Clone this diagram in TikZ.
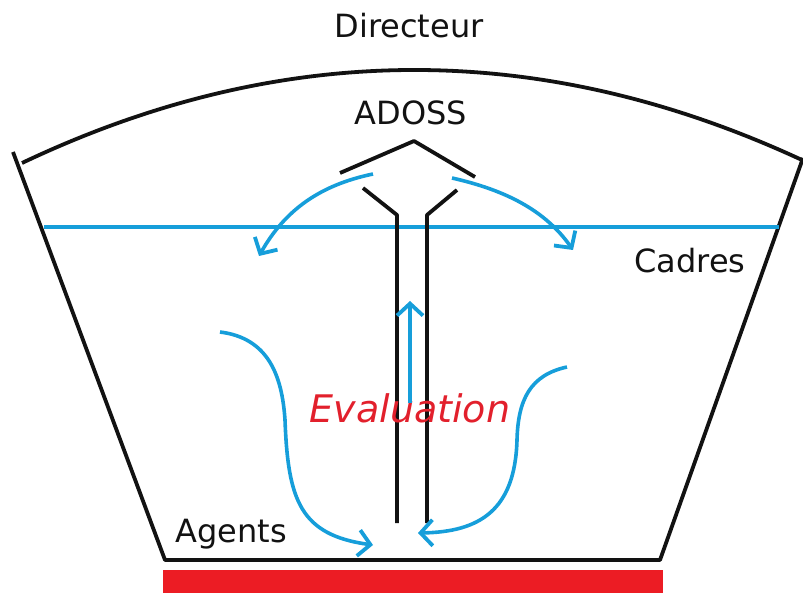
\documentclass[tikz,border=0pt]{standalone}
\usepackage{fontspec}
\setmainfont{DejaVu Sans}
\usetikzlibrary{arrows.meta}
\definecolor{paintblue}{RGB}{22,158,218}
\definecolor{paintred}{RGB}{236,28,36}
\definecolor{evalred}{RGB}{226,32,44}
\definecolor{ink}{RGB}{18,18,18}
\tikzset{
  frame/.style={draw=ink, line width=1.9pt, line join=round},
  flow/.style={draw=paintblue, line width=1.8pt, -{Straight Barb[length=6pt,width=13pt,line width=1.9pt]}},
  label/.style={inner sep=0pt, anchor=base, text=ink, font=\fontsize{16}{19}\selectfont},
}
\begin{document}
\begin{tikzpicture}[x=0.5pt,y=-0.5pt]
\useasboundingbox (0,0) rectangle (803,593);
% red base
\fill[paintred] (163,570) rectangle (663,593);
% outer frame
\coordinate (tl) at (13,152);
\coordinate (bl) at (165,560);
\coordinate (br) at (660,560);
\coordinate (tr) at (803,158);
\draw[frame] (tl) -- (bl) -- (br) -- (tr);
\coordinate (arcL) at (22,163);
\coordinate (arcR) at (802,160);
\draw[frame] (arcL) .. controls (281,40) and (541,39) .. (arcR);
% blue level line
\coordinate (cadL) at (44,227);
\coordinate (cadR) at (779,227);
\draw[paintblue, line width=2pt] (cadL) -- (cadR);
% chevron and tube
\draw[frame] (340,173) -- (414,141) -- (475,177);
\draw[frame] (363,188) -- (397,215) -- (397,523);
\draw[frame] (457,190) -- (427,215) -- (427,523);
% texts
\node[label] (dir) at (409,38) {Directeur};
\node[label] (adoss) at (411,125) {ADOSS};
\node[label] (cadres) at (690,273) {Cadres};
\node[label] (agents) at (231,542) {Agents};
\node[inner sep=0pt, anchor=base, text=evalred, font=\fontsize{19}{22}\selectfont\itshape] (eval) at (410,422) {Evaluation};
% blue arrows
\coordinate (a1s) at (373,174); \coordinate (a1e) at (259,256);
\coordinate (a2s) at (452,178); \coordinate (a2e) at (573,250);
\coordinate (a3s) at (410,403); \coordinate (a3e) at (410,301);
\coordinate (a4s) at (220,332); \coordinate (a4e) at (373,545);
\coordinate (a5s) at (567,367); \coordinate (a5e) at (418,533);
\draw[flow] (a1s) .. controls (320,185) and (285,210) .. (a1e);
\draw[flow] (a2s) .. controls (505,190) and (545,210) .. (a2e);
\draw[flow] (a3s) -- (a3e);
\draw[flow] (a4s) .. controls (268,338) and (282,375) .. (285,420) .. controls (288,500) and (300,535) .. (a4e);
\draw[flow] (a5s) .. controls (530,375) and (518,400) .. (517,440) .. controls (515,510) and (480,532) .. (a5e);
\end{tikzpicture}
\end{document}
